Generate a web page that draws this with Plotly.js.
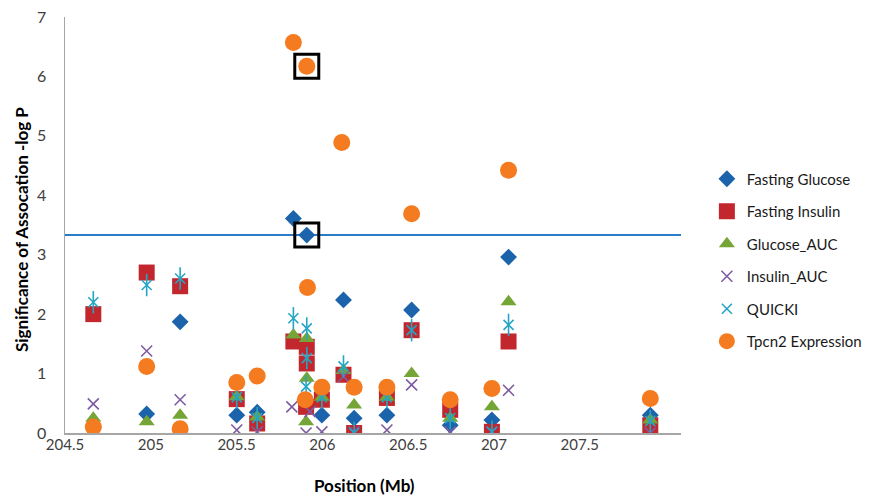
<!DOCTYPE html>
<html><head><meta charset="utf-8">
<script src="https://cdn.plot.ly/plotly-3.0.1.min.js"></script>
<style>html,body{margin:0;padding:0;background:#fff}#chart{width:875px;height:498px}</style>
</head><body><div id="chart"></div>
<script>
// Positions (Mb) and -log P values
const glucoseX   = [204.665, 204.976, 205.171, 205.501, 205.620, 205.831, 205.909, 205.997, 206.123, 206.185, 206.376, 206.520, 206.745, 206.988, 207.085, 207.911];
const glucoseY   = [0.10, 0.32, 1.87, 0.30, 0.35, 3.61, 3.33, 0.30, 2.24, 0.25, 0.30, 2.07, 0.13, 0.22, 2.96, 0.30];

const insulinX   = [204.665, 204.976, 205.171, 205.501, 205.620, 205.831, 205.909, 205.909, 205.905, 205.997, 206.123, 206.185, 206.376, 206.520, 206.745, 206.988, 207.085, 207.911];
const insulinY   = [2.00, 2.70, 2.47, 0.57, 0.16, 1.54, 1.45, 1.17, 0.44, 0.56, 0.98, 0.00, 0.59, 1.73, 0.39, 0.02, 1.54, 0.13];

const gAucX      = [204.665, 204.976, 205.171, 205.501, 205.620, 205.831, 205.909, 205.909, 205.905, 205.997, 206.123, 206.185, 206.376, 206.520, 206.745, 206.988, 207.085, 207.911];
const gAucY      = [0.25, 0.19, 0.30, 0.61, 0.27, 1.65, 1.59, 0.92, 0.19, 0.60, 1.05, 0.47, 0.60, 1.00, 0.25, 0.44, 2.21, 0.22];

const iAucX      = [204.665, 204.976, 205.171, 205.501, 205.620, 205.822, 205.928, 205.905, 205.997, 206.123, 206.185, 206.376, 206.520, 206.745, 206.988, 207.085, 207.911];
const iAucY      = [0.49, 1.38, 0.56, 0.05, 0.02, 0.44, 0.36, 0.00, 0.02, 0.95, 0.02, 0.05, 0.81, 0.02, 0.02, 0.72, 0.00];

const quickiX    = [204.665, 204.976, 205.171, 205.501, 205.620, 205.831, 205.909, 205.909, 205.905, 205.997, 206.123, 206.185, 206.376, 206.520, 206.745, 206.988, 207.085, 207.911];
const quickiY    = [2.20, 2.49, 2.60, 0.60, 0.25, 1.93, 1.76, 1.26, 0.78, 0.60, 1.12, 0.00, 0.60, 1.73, 0.25, 0.02, 1.82, 0.20];

const tpcn2X     = [204.665, 204.976, 205.171, 205.501, 205.620, 205.831, 205.909, 205.913, 205.900, 205.997, 206.113, 206.185, 206.376, 206.520, 206.745, 206.988, 207.085, 207.911];
const tpcn2Y     = [0.10, 1.12, 0.07, 0.85, 0.96, 6.57, 6.17, 2.45, 0.56, 0.77, 4.89, 0.77, 0.77, 3.69, 0.56, 0.75, 4.42, 0.58];

const highlightX = [205.909, 205.909];
const highlightY = [6.17, 3.33];

const threshold  = 3.33;
const xTicks     = [204.5, 205, 205.5, 206, 206.5, 207, 207.5];
const xTickText  = ['204.5', '205', '205.5', '206', '206.5', '207', '207.5'];
const yTicks     = [0, 1, 2, 3, 4, 5, 6, 7];

const FONT = 'Lato, "Open Sans", sans-serif';

const traces = [
  {x: glucoseX, y: glucoseY, name: 'Fasting Glucose', legendgroup: 'a', mode: 'markers', type: 'scatter',
   marker: {symbol: 'diamond', size: 13, color: '#1B63AA', line: {width: 0}}},
  {x: insulinX, y: insulinY, name: 'Fasting Insulin', legendgroup: 'b', mode: 'markers', type: 'scatter',
   marker: {symbol: 'square', size: 16, color: '#C2272E', line: {width: 0}}},
  {x: gAucX, y: gAucY, name: 'Glucose_AUC', legendgroup: 'c', mode: 'markers', type: 'scatter',
   marker: {symbol: 'triangle-up', size: 14, color: '#74A536', line: {width: 0}}},
  {x: iAucX, y: iAucY, name: 'Insulin_AUC', legendgroup: 'd', mode: 'markers', type: 'scatter',
   marker: {symbol: 'x-thin-open', size: 11, color: '#7E5CA0', line: {width: 1.6, color: '#7E5CA0'}}},
  {x: quickiX, y: quickiY, name: 'QUICKI', legendgroup: 'e', mode: 'markers', type: 'scatter',
   marker: {symbol: 'x-thin-open', size: 10, color: '#25A5C4', line: {width: 1.6, color: '#25A5C4'}}},
  {x: quickiX, y: quickiY, name: 'QUICKI', legendgroup: 'e', showlegend: false, mode: 'markers', type: 'scatter',
   marker: {symbol: 'line-ns-open', size: 16, color: '#25A5C4', line: {width: 1.6, color: '#25A5C4'}}},
  {x: tpcn2X, y: tpcn2Y, name: 'Tpcn2 Expression', legendgroup: 'f', mode: 'markers', type: 'scatter',
   marker: {symbol: 'circle', size: 17, color: '#F47B1F', line: {width: 0}}},
  {x: highlightX, y: highlightY, showlegend: false, mode: 'markers', type: 'scatter', hoverinfo: 'skip',
   marker: {symbol: 'square-open', size: 24, color: '#000', line: {width: 3, color: '#000'}}}
];

const layout = {
  width: 875, height: 498,
  margin: {l: 65, r: 194, t: 17, b: 65, autoexpand: false},
  paper_bgcolor: '#fff', plot_bgcolor: '#fff',
  font: {family: FONT, size: 15, color: '#404040'},
  showlegend: true,
  legend: {x: 1.042, xanchor: 'left', y: 0.416, yanchor: 'middle', traceorder: 'grouped', tracegroupgap: 10,
           font: {family: FONT, size: 15, color: '#1a1a1a'}, bgcolor: 'rgba(0,0,0,0)'},
  xaxis: {range: [204.5, 208.09], tickvals: xTicks, ticktext: xTickText, showgrid: false, zeroline: false,
          showline: true, linecolor: '#A6A6A6', linewidth: 1.5, ticks: '', ticklabelstandoff: -3,
          tickfont: {family: FONT, size: 15, color: '#404040'}},
  yaxis: {range: [0, 7], tickvals: yTicks, showgrid: false, zeroline: false,
          showline: true, linecolor: '#A6A6A6', linewidth: 1.5, ticks: 'outside', ticklen: 14, tickcolor: 'rgba(0,0,0,0)',
          tickfont: {family: FONT, size: 16, color: '#404040'}},
  annotations: [
    {text: '<b>Position (Mb)</b>', xref: 'paper', yref: 'paper', x: 0.487, y: -0.125, xanchor: 'center', yanchor: 'middle',
     showarrow: false, font: {family: FONT, size: 17, color: '#000'}},
    {text: '<b>Significance of Assocation -log P</b>', xref: 'paper', yref: 'paper', x: -0.0698, y: 0.488, textangle: -90,
     xanchor: 'center', yanchor: 'middle', showarrow: false, font: {family: FONT, size: 17, color: '#000'}}
  ],
  shapes: [
    {type: 'line', xref: 'paper', x0: 0, x1: 1, yref: 'y', y0: threshold, y1: threshold,
     line: {color: '#2A7CC7', width: 2}, layer: 'below'}
  ]
};

Plotly.newPlot('chart', traces, layout, {displayModeBar: false, staticPlot: true});
</script>
</body></html>
